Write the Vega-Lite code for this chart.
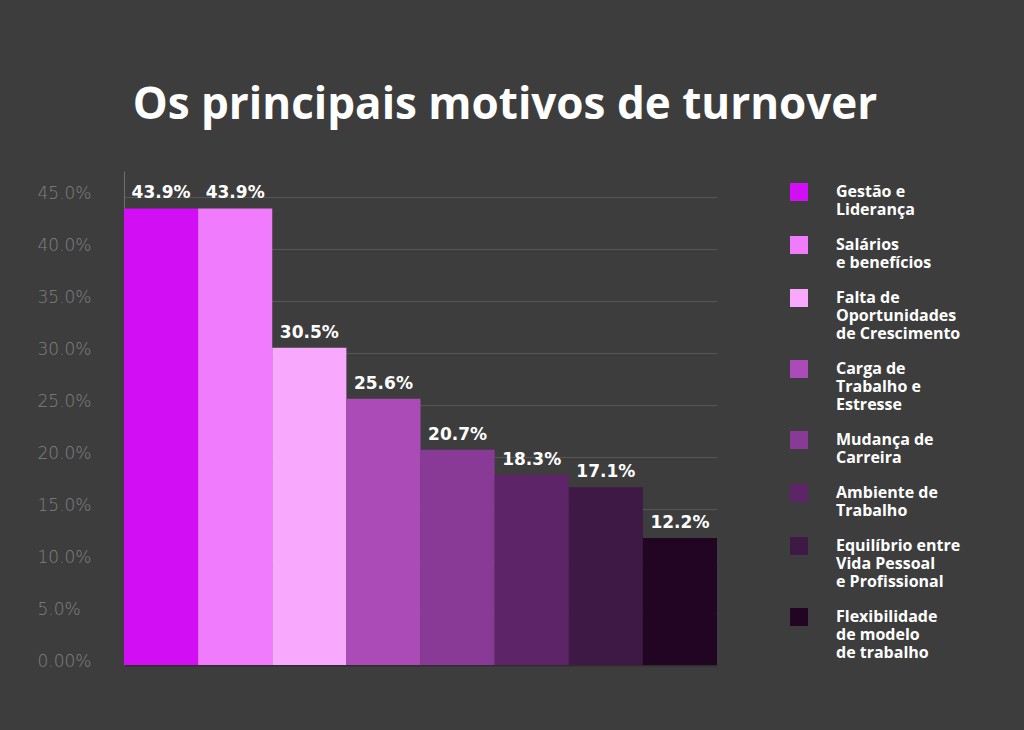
{
  "$schema": "https://vega.github.io/schema/vega-lite/v6.json",
  "background": "#3d3d3d",
  "autosize": {"type": "fit", "contains": "padding"},
  "padding": {"left": 37, "top": 84, "right": 51, "bottom": 61},
  "config": {"view": {"stroke": null}},
  "title": {
    "text": "Os principais motivos de turnover",
    "font": "Open Sans",
    "fontSize": 44,
    "fontWeight": "bold",
    "color": "#ffffff",
    "anchor": "middle",
    "frame": "bounds",
    "offset": 43
  },
  "width": 1024,
  "height": 730,
  "data": {
    "values": [
      {"motivo": "Gestão e\nLiderança", "valor": 0.439},
      {"motivo": "Salários\ne benefícios", "valor": 0.439},
      {"motivo": "Falta de\nOportunidades\nde Crescimento", "valor": 0.305},
      {"motivo": "Carga de\nTrabalho e\nEstresse", "valor": 0.256},
      {"motivo": "Mudança de\nCarreira", "valor": 0.207},
      {"motivo": "Ambiente de\nTrabalho", "valor": 0.183},
      {"motivo": "Equilíbrio entre\nVida Pessoal\ne Profissional", "valor": 0.171},
      {"motivo": "Flexibilidade\nde modelo\nde trabalho", "valor": 0.122}
    ]
  },
  "encoding": {
    "x": {
      "field": "motivo",
      "type": "nominal",
      "sort": null,
      "scale": {"paddingInner": 0, "paddingOuter": 0},
      "axis": {"labels": false, "ticks": false, "title": null, "domainColor": "#2e2e2e", "domainWidth": 2}
    },
    "y": {
      "field": "valor",
      "type": "quantitative",
      "scale": {"domain": [0, 0.475], "nice": false},
      "axis": {
        "title": null,
        "values": [0, 0.05, 0.1, 0.15, 0.2, 0.25, 0.3, 0.35, 0.4, 0.45],
        "labelExpr": "datum.value == 0 ? '0.00%' : format(datum.value, '.1%')",
        "ticks": false,
        "tickSize": 0,
        "labelPadding": 87,
        "labelAlign": "left",
        "labelFont": "DejaVu Sans",
        "labelFontWeight": 300,
        "labelFontSize": 17,
        "labelColor": "#808080",
        "labelOffset": -4,
        "domainColor": "#6e6e6e",
        "gridColor": "#575757",
        "grid": true
      }
    }
  },
  "layer": [
    {
      "mark": {"type": "bar"},
      "encoding": {
        "color": {
          "field": "motivo",
          "type": "nominal",
          "sort": null,
          "scale": {"range": ["#d20ef4", "#f07bfc", "#f8a9fd", "#ab4bb8", "#883a96", "#5d2567", "#3e1945", "#210522"]},
          "legend": {
            "title": null,
            "orient": "right",
            "offset": 61,
            "symbolType": "square",
            "symbolSize": 324,
            "symbolStrokeWidth": 0,
            "symbolOpacity": 1,
            "labelFont": "Open Sans",
            "labelFontWeight": "bold",
            "labelFontSize": 16,
            "labelColor": "#ffffff",
            "labelExpr": "split(datum.label, '\\n')",
            "labelOffset": 28,
            "labelLimit": 0,
            "rowPadding": 18,
            "padding": 12
          }
        }
      }
    },
    {
      "mark": {"type": "text", "dy": -6, "baseline": "bottom", "font": "DejaVu Sans", "fontWeight": "bold", "fontSize": 17, "color": "#ffffff"},
      "encoding": {
        "text": {"field": "valor", "type": "quantitative", "format": ".1%"}
      }
    }
  ]
}
